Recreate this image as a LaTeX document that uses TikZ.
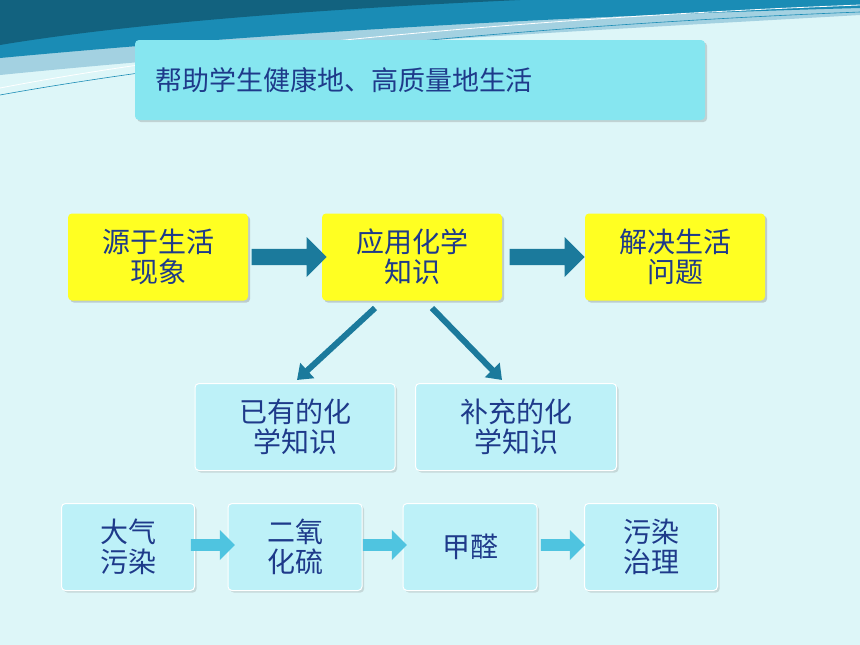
\documentclass[tikz,border=0pt]{standalone}
\usepackage{fontspec}
\newfontfamily\cjk{Noto Sans CJK SC}
\usetikzlibrary{shapes.arrows,shadows}
\definecolor{bgcyan}{HTML}{DDF6F8}
\definecolor{headcyan}{HTML}{86E6F0}
\definecolor{txtblue}{HTML}{1E3A8A}
\definecolor{boxyellow}{HTML}{FFFF22}
\definecolor{darkteal}{HTML}{1B7A9C}
\definecolor{lightbox}{HTML}{BDF1F8}
\definecolor{lightarrow}{HTML}{4FC4E0}
\definecolor{wave}{HTML}{1A8CB5}
\tikzset{
  yelbox/.style={draw=none, fill=boxyellow, rounded corners=4pt, minimum width=180pt, minimum height=87pt, align=center, font=\cjk\fontsize{28}{30}\selectfont, text=txtblue, drop shadow={opacity=0.35}},
  lightnode/.style={draw=white, line width=1pt, fill=lightbox, rounded corners=4pt, align=center, font=\cjk\fontsize{28}{30}\selectfont, text=txtblue, drop shadow={opacity=0.25}},
  bigarrow/.style={single arrow, fill=darkteal, draw=none, minimum height=75pt, minimum width=40pt, single arrow head extend=6pt, inner sep=4pt},
  smallarrow/.style={single arrow, fill=lightarrow, draw=none, minimum height=44pt, minimum width=30pt, single arrow head extend=5pt, inner sep=3pt},
  diagarrow/.style={line width=6pt, draw=darkteal, -{Triangle[length=14pt,width=20pt]}}
}
\usetikzlibrary{arrows.meta}
\begin{document}
\begin{tikzpicture}[x=1pt,y=-1pt]
  \fill[bgcyan] (0,0) rectangle (860,645);
  \useasboundingbox (0,0) rectangle (860,645);

  % top waves
  \fill[wave!40] (0,0) -- (860,0) -- (860,15) .. controls (600,30) and (300,45) .. (0,75) -- cycle;
  \fill[wave] (0,0) -- (860,0) -- (860,8) .. controls (600,15) and (300,30) .. (0,58) -- cycle;
  \fill[wave!70!black] (0,0) -- (520,0) .. controls (300,10) and (120,25) .. (0,45) -- cycle;
  \draw[white, line width=0.8pt] (0,88) .. controls (250,40) and (600,15) .. (860,5);
  \draw[wave, line width=0.6pt] (0,95) .. controls (250,50) and (600,22) .. (860,12);

  % header
  \node (head) [fill=headcyan, rounded corners=4pt, minimum width=570pt, minimum height=80pt, text width=530pt, align=left, font=\cjk\fontsize{27}{29}\selectfont, text=txtblue, drop shadow={opacity=0.3}] at (420,80) {帮助学生健康地、高质量地生活};

  % main row
  \node (source) [yelbox] at (158,257) {源于生活\\现象};
  \node (apply) [yelbox] at (412,257) {应用化学\\知识};
  \node (solve) [yelbox] at (675,257) {解决生活\\问题};
  \node (a1) [bigarrow] at (285,257) {};
  \node (a2) [bigarrow] at (543,257) {};

  % knowledge boxes
  \node (known) [lightnode, minimum width=200pt, minimum height=87pt] at (295,427) {已有的化\\学知识};
  \node (extra) [lightnode, minimum width=201pt, minimum height=87pt] at (516,427) {补充的化\\学知识};
  \draw[diagarrow] (375,308) -- (297,380);
  \draw[diagarrow] (432,308) -- (502,380);

  % bottom row
  \node (air) [lightnode, minimum width=133pt, minimum height=87pt] at (128,547) {大气\\污染};
  \node (so2) [lightnode, minimum width=134pt, minimum height=87pt] at (295,547) {二氧\\化硫};
  \node (hcho) [lightnode, minimum width=134pt, minimum height=87pt] at (470,547) {甲醛};
  \node (treat) [lightnode, minimum width=133pt, minimum height=87pt] at (651,547) {污染\\治理};
  \node (b1) [smallarrow] at (210,545) {};
  \node (b2) [smallarrow] at (382,545) {};
  \node (b3) [smallarrow] at (560,545) {};
\end{tikzpicture}
\end{document}
